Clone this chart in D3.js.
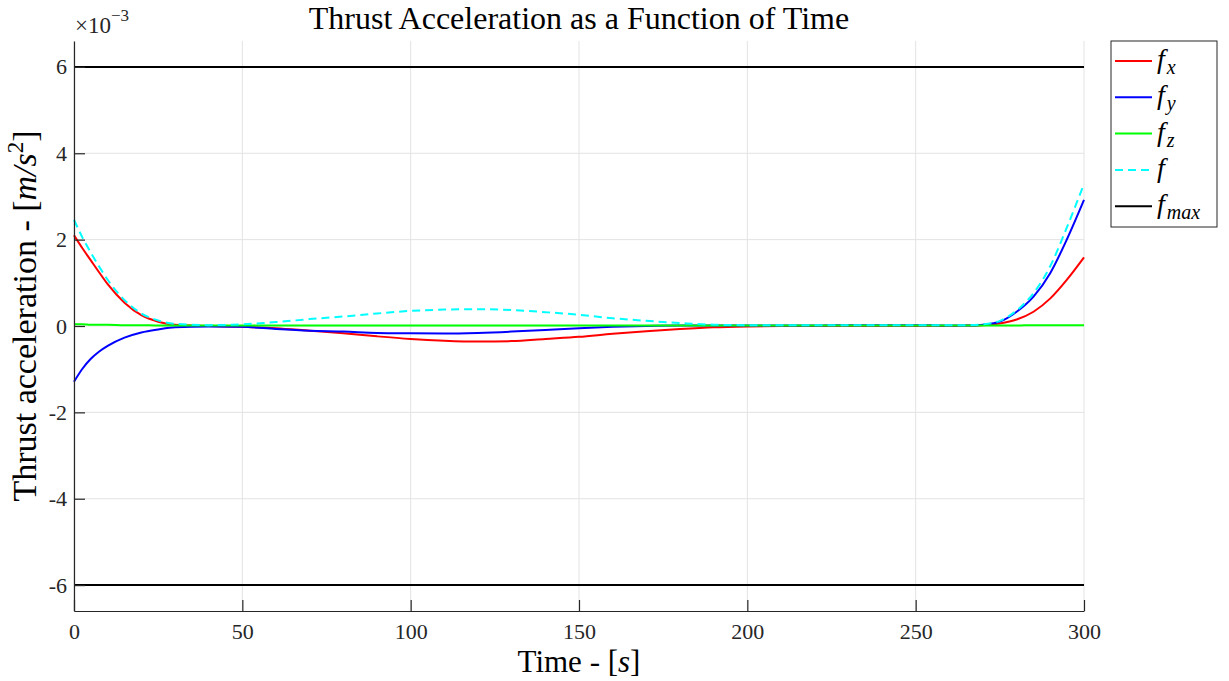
<!DOCTYPE html>
<html lang="en">
<head>
  <meta charset="UTF-8">
  <title>Thrust Acceleration</title>
  <script src="https://d3js.org/d3.v7.min.js"></script>
  <style>
    body { margin: 0; background: #fff; }
    svg { font-family: "Liberation Serif", "DejaVu Serif", serif; }
    .line { fill: none; stroke-width: 2px; }
  </style>
</head>
<body>
  <svg width="1229" height="681"></svg>

  <script>
    // time in seconds, accelerations in 1e-3 m/s^2
    const time = [0, 2.5, 5, 7.5, 10, 15, 20, 25, 30, 40, 50, 60, 70, 80, 90, 100, 110, 120, 130, 140,
                  150, 160, 170, 180, 190, 200, 210, 220, 230, 240, 250, 260, 265, 270, 275, 280, 285, 290, 295, 300];
    const fx = [2.10, 1.80, 1.52, 1.24, 0.97, 0.54, 0.25, 0.10, 0.03, 0.00, -0.02, -0.05, -0.11, -0.17, -0.24, -0.30, -0.34, -0.36, -0.35, -0.30,
                -0.25, -0.18, -0.12, -0.07, -0.03, -0.01, 0.00, 0.00, 0.00, 0.00, 0.00, 0.00, 0.01, 0.02, 0.06, 0.15, 0.33, 0.64, 1.08, 1.59];
    const fy = [-1.29, -0.99, -0.76, -0.59, -0.46, -0.27, -0.15, -0.08, -0.03, -0.01, -0.02, -0.07, -0.11, -0.13, -0.16, -0.17, -0.175, -0.16, -0.13, -0.09,
                -0.05, -0.02, 0.00, 0.01, 0.01, 0.01, 0.01, 0.01, 0.02, 0.02, 0.02, 0.01, 0.01, 0.03, 0.10, 0.33, 0.68, 1.23, 2.02, 2.92];
    const fz = [0.04, 0.04, 0.03, 0.03, 0.03, 0.02, 0.02, 0.01, 0.01, 0.01, 0.01, 0.01, 0.01, 0.01, 0.01, 0.01, 0.01, 0.01, 0.01, 0.01,
                0.01, 0.01, 0.01, 0.01, 0.01, 0.01, 0.01, 0.01, 0.01, 0.01, 0.01, 0.01, 0.01, 0.01, 0.01, 0.01, 0.02, 0.02, 0.02, 0.02];
    const fmag = [2.46, 2.05, 1.70, 1.37, 1.07, 0.60, 0.29, 0.13, 0.05, 0.02, 0.04, 0.09, 0.16, 0.22, 0.29, 0.35, 0.38, 0.39, 0.37, 0.32,
                  0.26, 0.18, 0.12, 0.07, 0.03, 0.02, 0.02, 0.02, 0.02, 0.02, 0.02, 0.02, 0.02, 0.04, 0.12, 0.36, 0.76, 1.39, 2.30, 3.29];
    const fmax = 6;

    const xTicks = [0, 50, 100, 150, 200, 250, 300];
    const yTicks = [-6, -4, -2, 0, 2, 4, 6];

    const series = [
      { name: "x", values: fx, color: "#ff0000", dash: null },
      { name: "y", values: fy, color: "#0000ff", dash: null },
      { name: "z", values: fz, color: "#00ff00", dash: null },
      { name: "", values: fmag, color: "#00ffff", dash: "8,5" },
      { name: "max", values: null, color: "#000000", dash: null }
    ];

    const svg = d3.select("svg");
    const pLeft = 74, pRight = 1084, pTop = 41, pBottom = 611;
    const serif = "'Liberation Serif', 'DejaVu Serif', serif";

    const x = d3.scaleLinear().domain([0, 300]).range([pLeft, pRight]);
    const y = d3.scaleLinear().domain([-6.6, 6.6]).range([pBottom, pTop]);

    // grid
    const grid = svg.append("g").attr("stroke", "#e3e3e3").attr("stroke-width", 1);
    grid.selectAll(".gx").data(xTicks).enter().append("line")
      .attr("x1", d => x(d)).attr("x2", d => x(d))
      .attr("y1", pTop).attr("y2", pBottom);
    grid.selectAll(".gy").data(yTicks).enter().append("line")
      .attr("x1", pLeft).attr("x2", pRight)
      .attr("y1", d => y(d)).attr("y2", d => y(d));

    const line = d3.line()
      .x((d, i) => x(time[i]))
      .y(d => y(d))
      .curve(d3.curveMonotoneX);

    // data lines
    series.filter(s => s.values).forEach(s => {
      svg.append("path")
        .datum(s.values)
        .attr("class", "line")
        .attr("stroke", s.color)
        .attr("stroke-dasharray", s.dash)
        .attr("d", line);
    });

    // limits
    [fmax, -fmax].forEach(v => {
      svg.append("line")
        .attr("x1", x(0)).attr("x2", x(300))
        .attr("y1", y(v)).attr("y2", y(v))
        .attr("stroke", "#000").attr("stroke-width", 2);
    });

    // axes
    const xAxis = svg.append("g")
      .attr("transform", `translate(0,${pBottom})`)
      .call(d3.axisBottom(x).tickValues(xTicks).tickSize(-11).tickSizeOuter(0).tickPadding(12));
    const yAxis = svg.append("g")
      .attr("transform", `translate(${pLeft},0)`)
      .call(d3.axisLeft(y).tickValues(yTicks).tickSize(-11).tickSizeOuter(0).tickPadding(7)
        .tickFormat(d => d < 0 ? "-" + Math.abs(d) : d));
    [xAxis, yAxis].forEach(a => {
      a.attr("font-family", serif).attr("font-size", 22);
      a.select(".domain").attr("stroke", "#262626").attr("stroke-width", 1.2);
      a.selectAll(".tick line").attr("stroke", "#262626").attr("stroke-width", 1.2);
      a.selectAll("text").attr("fill", "#262626");
    });

    // exponent
    const ex = svg.append("text").attr("x", 75).attr("y", 33).attr("fill", "#262626")
      .attr("font-size", 23);
    ex.append("tspan").text("\u00d710");
    ex.append("tspan").attr("dy", -12).attr("font-size", 17).text("\u22123");

    // title
    svg.append("text")
      .attr("x", (pLeft + pRight) / 2).attr("y", 29)
      .attr("text-anchor", "middle")
      .style("font-size", "32px")
      .text("Thrust Acceleration as a Function of Time");

    // x label
    const xl = svg.append("text")
      .attr("x", (pLeft + pRight) / 2).attr("y", 672)
      .attr("text-anchor", "middle")
      .style("font-size", "31px");
    xl.append("tspan").text("Time - [");
    xl.append("tspan").style("font-style", "italic").text("s");
    xl.append("tspan").text("]");

    // y label
    const yl = svg.append("text")
      .attr("transform", "translate(36,316) rotate(-90)")
      .attr("text-anchor", "middle")
      .style("font-size", "34px");
    yl.append("tspan").text("Thrust acceleration - [");
    yl.append("tspan").style("font-style", "italic").text("m/s");
    yl.append("tspan").attr("dy", -13).style("font-size", "23px").text("2");
    yl.append("tspan").attr("dy", 13).text("]");

    // legend
    const lg = svg.append("g");
    lg.append("rect")
      .attr("x", 1111).attr("y", 41).attr("width", 106).attr("height", 186)
      .attr("fill", "#fff").attr("stroke", "#262626").attr("stroke-width", 1);
    series.forEach((s, i) => {
      const ly = 61 + i * 36.3;
      lg.append("line")
        .attr("x1", 1115).attr("x2", 1152)
        .attr("y1", ly).attr("y2", ly)
        .attr("stroke", s.color).attr("stroke-width", 2)
        .attr("stroke-dasharray", s.dash);
      const t = lg.append("text").attr("x", 1157).attr("y", ly + 7)
        .style("font-size", "28px").style("font-style", "italic");
      t.append("tspan").text("f");
      if (s.name) {
        t.append("tspan").attr("dx", 2).attr("dy", 6).style("font-size", "20px").text(s.name);
      }
    });
  </script>
</body>
</html>
